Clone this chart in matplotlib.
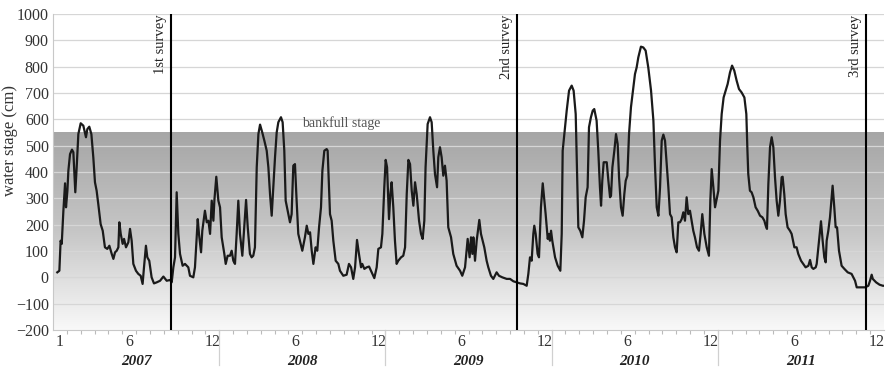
import numpy as np
import matplotlib.pyplot as plt
import matplotlib.transforms as mtransforms
from matplotlib.colors import LinearSegmentedColormap

plt.rcParams['font.family'] = ['Liberation Serif', 'DejaVu Serif']
plt.rcParams['axes.unicode_minus'] = True

# time in months since 1 Jan 2007, water stage in cm
t = [0.31, 0.46, 0.55, 0.63, 0.75, 0.87, 0.94, 1.04, 1.11, 1.23, 1.37, 1.47, 1.61, 1.71, 1.83,
     2.00, 2.19, 2.38, 2.48, 2.62, 2.77, 2.91, 3.03, 3.15, 3.27, 3.44, 3.59, 3.75, 3.92, 4.07,
     4.24, 4.36, 4.48, 4.60, 4.72, 4.79, 4.89, 5.03, 5.13, 5.27, 5.44, 5.56, 5.68, 5.80, 5.99,
     6.16, 6.33, 6.47, 6.57, 6.71, 6.81, 6.95, 7.12, 7.29, 7.49, 7.73, 7.97, 8.21, 8.45, 8.57,
     8.69, 8.81, 8.93, 9.05, 9.17, 9.36, 9.53, 9.77, 9.89, 10.13, 10.25, 10.45, 10.54, 10.69,
     10.78, 10.97, 11.10, 11.22, 11.34, 11.46, 11.58, 11.65, 11.79, 11.94, 12.06, 12.18, 12.37,
     12.47, 12.61, 12.78, 12.90, 13.02, 13.14, 13.26, 13.38, 13.50, 13.67, 13.81, 13.94, 14.06,
     14.22, 14.34, 14.46, 14.58, 14.71, 14.83, 14.95, 15.11, 15.26, 15.43, 15.55, 15.67, 15.79,
     15.91, 16.03, 16.15, 16.27, 16.46, 16.58, 16.70, 16.80, 16.99, 17.11, 17.23, 17.35, 17.47,
     17.59, 17.71, 17.83, 18.00, 18.19, 18.32, 18.44, 18.56, 18.68, 18.80, 18.96, 19.08, 19.21,
     19.35, 19.45, 19.59, 19.76, 19.83, 19.93, 20.00, 20.12, 20.24, 20.41, 20.60, 20.72, 20.96,
     21.20, 21.37, 21.52, 21.68, 21.81, 21.95, 22.09, 22.24, 22.33, 22.48, 22.65, 22.82, 23.01,
     23.20, 23.37, 23.49, 23.68, 23.78, 23.92, 24.02, 24.12, 24.26, 24.36, 24.45, 24.57, 24.69,
     24.81, 24.93, 25.13, 25.29, 25.42, 25.54, 25.66, 25.78, 25.90, 26.02, 26.14, 26.26, 26.43,
     26.57, 26.69, 26.81, 26.90, 27.05, 27.22, 27.34, 27.46, 27.58, 27.73, 27.82, 27.94, 28.06,
     28.18, 28.30, 28.42, 28.54, 28.74, 28.90, 29.14, 29.39, 29.55, 29.75, 29.94, 30.08, 30.18,
     30.28, 30.35, 30.47, 30.59, 30.78, 30.90, 31.02, 31.14, 31.31, 31.43, 31.62, 31.79, 32.03,
     32.20, 32.44, 32.76, 33.00, 33.24, 33.48, 33.72, 33.96, 34.20, 34.32, 34.44, 34.56, 34.68,
     34.75, 34.85, 34.99, 35.09, 35.23, 35.36, 35.48, 35.57, 35.72, 35.81, 35.88, 35.96, 36.05,
     36.25, 36.44, 36.63, 36.73, 36.80, 36.92, 37.09, 37.26, 37.45, 37.59, 37.74, 37.83, 37.93,
     38.07, 38.22, 38.34, 38.46, 38.60, 38.70, 38.84, 38.97, 39.08, 39.25, 39.37, 39.49, 39.57,
     39.66, 39.76, 39.98, 40.10, 40.22, 40.29, 40.39, 40.53, 40.65, 40.77, 40.87, 41.01, 41.13,
     41.25, 41.35, 41.47, 41.59, 41.73, 41.90, 42.02, 42.14, 42.26, 42.45, 42.62, 42.79, 42.98,
     43.18, 43.35, 43.47, 43.59, 43.71, 43.83, 43.95, 44.07, 44.19, 44.31, 44.43, 44.55, 44.67,
     44.79, 44.91, 45.03, 45.15, 45.27, 45.39, 45.51, 45.63, 45.75, 45.87, 45.99, 46.11, 46.23,
     46.35, 46.50, 46.64, 46.76, 46.88, 47.03, 47.20, 47.36, 47.46, 47.56, 47.68, 47.80, 47.94,
     48.04, 48.16, 48.28, 48.42, 48.57, 48.71, 48.88, 49.03, 49.19, 49.36, 49.53, 49.72, 49.92,
     50.06, 50.14, 50.20, 50.32, 50.44, 50.57, 50.73, 50.88, 51.05, 51.22, 51.36, 51.46, 51.55,
     51.65, 51.77, 51.89, 52.01, 52.13, 52.25, 52.37, 52.49, 52.61, 52.68, 52.80, 52.90, 53.04,
     53.21, 53.33, 53.53, 53.69, 53.81, 54.01, 54.17, 54.34, 54.54, 54.66, 54.78, 54.90, 55.07,
     55.14, 55.26, 55.45, 55.57, 55.69, 55.79, 55.86, 55.98, 56.10, 56.29, 56.41, 56.51, 56.61,
     56.75, 56.94, 57.14, 57.38, 57.66, 57.91, 58.03, 58.27, 58.63, 58.87, 58.99, 59.11, 59.19,
     59.43, 59.68, 59.92, 60.00]
stage = [19, 25, 139, 127, 253, 357, 266, 329, 405, 468, 485, 475, 323, 418, 544,
         585, 576, 532, 563, 572, 544, 456, 361, 329, 278, 202, 177, 114, 108, 120,
         89, 70, 95, 101, 114, 209, 165, 127, 146, 114, 133, 184, 139, 51, 25,
         13, 6, -25, 38, 120, 76, 63, 0, -23, -19, -13, 3, -13, -10, -19,
         38, 76, 323, 165, 89, 44, 51, 38, 6, 0, 38, 221, 165, 95,
         177, 253, 209, 215, 165, 291, 215, 291, 382, 291, 266, 152, 89,
         51, 82, 82, 101, 63, 51, 165, 291, 165, 82, 190, 294, 190,
         89, 76, 82, 114, 418, 544, 580, 550, 519, 481, 418, 316, 234,
         342, 456, 550, 589, 608, 589, 481, 291, 240, 209, 240, 424, 430,
         291, 165, 139, 101, 152, 196, 165, 171, 101, 51, 114, 101, 190,
         266, 405, 481, 487, 481, 342, 240, 215, 139, 63, 51, 25, 6,
         10, 51, 38, -6, 38, 142, 89, 38, 51, 32, 38, 41, 19,
         -3, 38, 108, 114, 165, 342, 446, 418, 221, 316, 361, 266, 139,
         51, 63, 76, 82, 114, 316, 446, 430, 329, 272, 361, 316, 215,
         165, 146, 215, 418, 582, 608, 589, 481, 392, 342, 456, 494, 456,
         386, 424, 367, 190, 152, 89, 44, 25, 6, 38, 146, 76, 152,
         89, 152, 63, 139, 218, 165, 139, 114, 63, 38, 6, -6, 19,
         6, 0, -6, -6, -15, -19, -23, -25, -32, 13, 76, 63, 165,
         196, 165, 89, 76, 266, 357, 291, 240, 146, 165, 139, 177, 139,
         76, 44, 25, 165, 481, 544, 633, 709, 728, 709, 620, 418, 190,
         177, 152, 215, 304, 342, 570, 608, 633, 639, 595, 481, 342, 272,
         367, 437, 437, 367, 304, 310, 418, 481, 544, 506, 380, 266, 234,
         316, 367, 386, 544, 646, 721, 772, 797, 835, 876, 873, 861, 797,
         709, 595, 418, 266, 234, 342, 519, 542, 519, 430, 342, 240, 228,
         152, 114, 95, 209, 209, 221, 247, 215, 304, 240, 253, 215, 177,
         152, 114, 101, 165, 240, 165, 114, 82, 291, 411, 342, 266, 304,
         329, 519, 620, 683, 709, 734, 778, 804, 785, 747, 715, 702, 683,
         620, 480, 392, 329, 323, 304, 266, 253, 234, 228, 215, 196, 184,
         354, 494, 532, 494, 380, 291, 234, 291, 380, 382, 316, 240, 190,
         177, 165, 114, 114, 89, 63, 51, 38, 44, 66, 38, 32, 38,
         51, 114, 213, 139, 76, 57, 139, 177, 228, 348, 266, 190, 190,
         101, 44, 32, 19, 13, -13, -38, -38, -38, -32, -13, 10, -6,
         -19, -28, -32, -32]

surveys = [8.55, 33.52, 58.68]
survey_labels = ['1st survey', '2nd survey', '3rd survey']
years = ['2007', '2008', '2009', '2010', '2011']
bankfull = 550

fig = plt.figure(figsize=(8.86, 3.69), dpi=100)
ax = fig.add_axes([53/886, 39/369, 831/886, 316/369])

# shaded bankfull area (gradient)
cmap = LinearSegmentedColormap.from_list('bank', ['#f9f9f9', '#c6c6c6', '#a6a6a6'])
grad = np.linspace(0, 1, 256).reshape(-1, 1)
ax.imshow(grad, extent=[0, 60, -200, bankfull], origin='lower', cmap=cmap,
          aspect='auto', zorder=0)

for yv in range(-100, 1001, 100):
    ax.axhline(yv, color='#d6d6d6', lw=0.9, zorder=0.5)

ax.plot(t, stage, color='#1a1a1a', lw=1.6, zorder=3)

for s, lab in zip(surveys, survey_labels):
    ax.axvline(s, color='black', lw=1.5, zorder=4)
    ax.text(s - 0.3, 997, lab, rotation=90, ha='right', va='top',
            fontsize=10.5, color='#222222')

ax.text(20.8, 558, 'bankfull stage', ha='center', va='bottom', fontsize=10,
        color='#555555')

ax.set_xlim(0, 60)
ax.set_ylim(-200, 1000)
ax.set_yticks(range(-200, 1001, 100))
ax.set_ylabel('water stage (cm)', fontsize=12, color='#333333', va='center')
ax.yaxis.set_label_coords(-0.052, 0.6)

major = [0.5]
major_labels = ['1']
for k in range(5):
    major += [12*k + 5.5, 12*k + 11.5]
    major_labels += ['6', '12']
ax.set_xticks(major)
ax.set_xticklabels(major_labels)
ax.set_xticks(range(1, 60), minor=True)
ax.tick_params(axis='x', which='major', length=0, pad=3, labelsize=11.5,
               labelcolor='#333333')
ax.tick_params(axis='x', which='minor', length=3, color='#bbbbbb', width=0.8)
ax.tick_params(axis='y', length=0, pad=3, labelsize=11.5, labelcolor='#333333')

for sp in ['top', 'right']:
    ax.spines[sp].set_visible(False)
ax.spines['left'].set_color('#c8c8c8')
ax.spines['bottom'].set_color('#c8c8c8')

trans = mtransforms.blended_transform_factory(ax.transData, ax.transAxes)
for k in range(1, 5):
    ax.plot([12*k, 12*k], [0, -0.11], transform=trans, color='#d0d0d0',
            lw=0.9, clip_on=False)
for k, yr in enumerate(years):
    ax.text(12*k + 6, -0.1, yr, transform=trans, ha='center', va='center',
            fontsize=11, fontweight='bold', fontstyle='italic', color='#222222')

plt.savefig('out.png', dpi=100)
